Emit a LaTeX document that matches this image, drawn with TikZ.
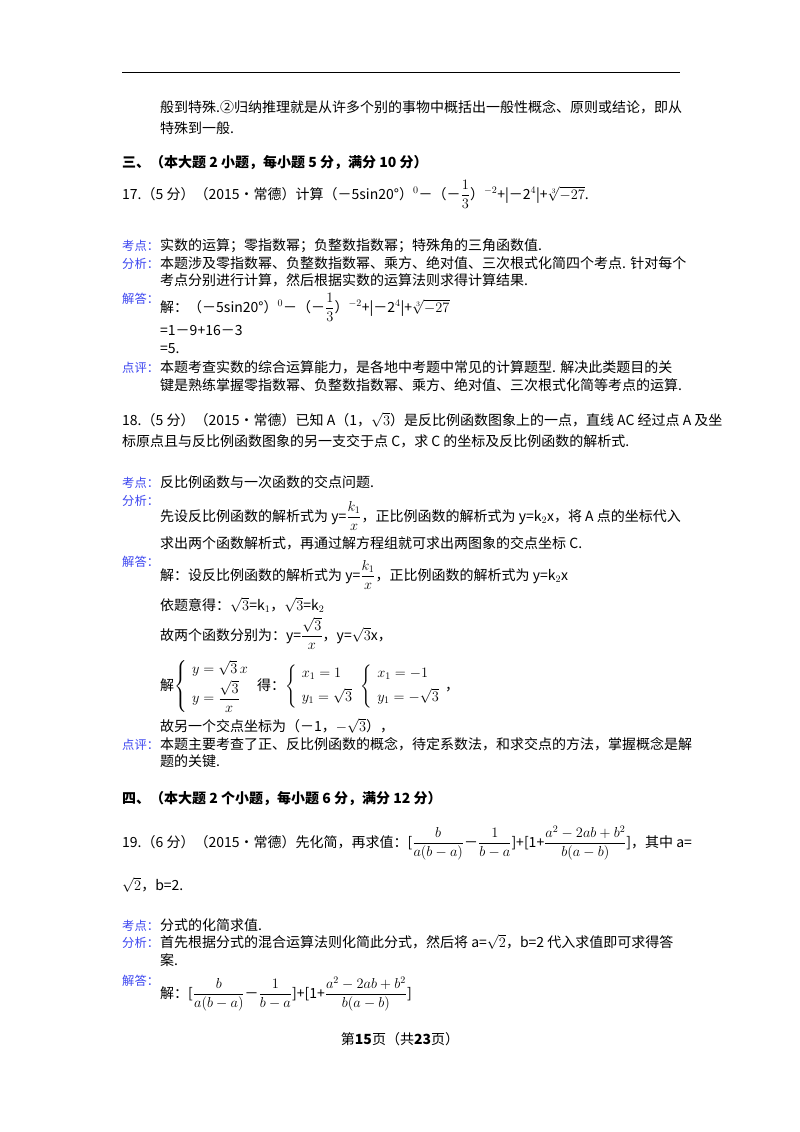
\documentclass[tikz,border=0pt]{standalone}
\usepackage{fontspec}
\usepackage{amsmath}
\setmainfont{Noto Sans CJK SC}
\definecolor{lbl}{RGB}{60,70,240}
\tikzset{t/.style={anchor=base west,inner sep=0pt,font=\fontsize{14}{16}\selectfont},
 lb/.style={anchor=base west,inner sep=0pt,text=lbl,font=\fontsize{12.3}{14}\selectfont},
 hd/.style={t,font=\fontsize{14}{16}\selectfont\bfseries}}
\begin{document}
\begin{tikzpicture}[x=1pt,y=-1pt]
\useasboundingbox[fill=white] (0,0) rectangle (800,1132);
\draw[line width=0.8pt] (122,72) coordinate (r1) -- (680,72) coordinate (r2);
\node[t] (a1) at (160,112) {般到特殊.②归纳推理就是从许多个别的事物中概括出一般性概念、原则或结论，即从};
\node[t] (a2) at (160,133) {特殊到一般.};
\node[hd] (h3) at (122,167) {三、（本大题 2 小题，每小题 5 分，满分 10 分）};
\node[t] (q17) at (122,199) {17.（5 分）（2015•常德）计算（－5sin20°）$^{0}$－（－$\dfrac{1}{3}$）$^{-2}$+|－2$^4$|+$\sqrt[3]{-27}$.};
\node[lb] (k1) at (122,250) {考点：};\node[t] (k1t) at (160,250) {实数的运算；零指数幂；负整数指数幂；特殊角的三角函数值.};
\node[lb] (f1) at (122,268) {分析：};\node[t] (f1t) at (160,268) {本题涉及零指数幂、负整数指数幂、乘方、绝对值、三次根式化简四个考点. 针对每个};
\node[t] (f1u) at (160,285) {考点分别进行计算，然后根据实数的运算法则求得计算结果.};
\node[lb] (j1) at (122,303) {解答：};
\node[t] (j1a) at (160,312) {解：（－5sin20°）$^{0}$－（－$\dfrac{1}{3}$）$^{-2}$+|－2$^4$|+$\sqrt[3]{-27}$};
\node[t] (j1b) at (160,335) {=1－9+16－3};
\node[t] (j1c) at (160,353) {=5.};
\node[lb] (d1) at (122,372) {点评：};\node[t] (d1t) at (160,372) {本题考查实数的综合运算能力，是各地中考题中常见的计算题型. 解决此类题目的关};
\node[t] (d1u) at (160,390) {键是熟练掌握零指数幂、负整数指数幂、乘方、绝对值、三次根式化简等考点的运算.};
\node[t] (q18) at (122,425) {18.（5 分）（2015•常德）已知 A（1，$\sqrt{3}$）是反比例函数图象上的一点，直线 AC 经过点 A 及坐};
\node[t] (q18b) at (122,446) {标原点且与反比例函数图象的另一支交于点 C，求 C 的坐标及反比例函数的解析式.};
\node[lb] (k2) at (122,487) {考点：};\node[t] (k2t) at (160,487) {反比例函数与一次函数的交点问题.};
\node[lb] (f2) at (122,505) {分析：};
\node[t] (f2t) at (160,521) {先设反比例函数的解析式为 y=$\dfrac{k_1}{x}$，正比例函数的解析式为 y=k$_2$x，将 A 点的坐标代入};
\node[t] (f2u) at (160,548) {求出两个函数解析式，再通过解方程组就可求出两图象的交点坐标 C.};
\node[lb] (j2) at (122,566) {解答：};
\node[t] (j2a) at (160,580) {解：设反比例函数的解析式为 y=$\dfrac{k_1}{x}$，正比例函数的解析式为 y=k$_2$x};
\node[t] (j2b) at (160,610) {依题意得：$\sqrt{3}$=k$_1$，$\sqrt{3}$=k$_2$};
\node[t] (j2c) at (160,640) {故两个函数分别为：y=$\dfrac{\sqrt{3}}{x}$，y=$\sqrt{3}$x，};
\node[t] (j2d) at (160,690) {解$\left\{\begin{array}{l}y=\sqrt{3}\,x\\[2pt] y=\dfrac{\sqrt{3}}{x}\end{array}\right.$ 得：$\left\{\begin{array}{l}x_1=1\\[6pt] y_1=\sqrt{3}\end{array}\right.\left\{\begin{array}{l}x_1=-1\\[6pt] y_1=-\sqrt{3}\end{array}\right.$，};
\node[t] (j2e) at (160,731) {故另一个交点坐标为（－1，$-\sqrt{3}$），};
\node[lb] (d2) at (122,749) {点评：};\node[t] (d2t) at (160,749) {本题主要考查了正、反比例函数的概念，待定系数法，和求交点的方法，掌握概念是解};
\node[t] (d2u) at (160,766) {题的关键.};
\node[hd] (h4) at (122,803) {四、（本大题 2 个小题，每小题 6 分，满分 12 分）};
\node[t] (q19) at (122,847) {19.（6 分）（2015•常德）先化简，再求值：[$\dfrac{b}{a(b-a)}$－$\dfrac{1}{b-a}$]+[1+$\dfrac{a^2-2ab+b^2}{b(a-b)}$]，其中 a=};
\node[t] (q19b) at (122,890) {$\sqrt{2}$，b=2.};
\node[lb] (k3) at (122,930) {考点：};\node[t] (k3t) at (160,930) {分式的化简求值.};
\node[lb] (f3) at (122,947) {分析：};\node[t] (f3t) at (160,947) {首先根据分式的混合运算法则化简此分式，然后将 a=$\sqrt{2}$，b=2 代入求值即可求得答};
\node[t] (f3u) at (160,965) {案.};
\node[lb] (j3) at (122,985) {解答：};
\node[t] (j3a) at (160,998) {解：[$\dfrac{b}{a(b-a)}$－$\dfrac{1}{b-a}$]+[1+$\dfrac{a^2-2ab+b^2}{b(a-b)}$]};
\node[t,anchor=base] (ft) at (400,1044) {第\textbf{15}页（共\textbf{23}页）};
\end{tikzpicture}
\end{document}
